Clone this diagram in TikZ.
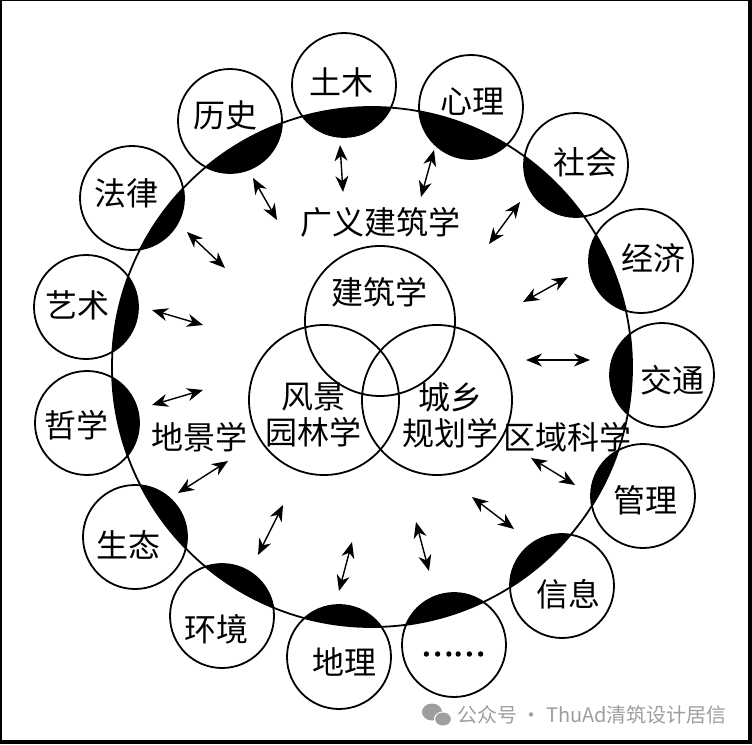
\documentclass[tikz,border=0pt]{standalone}
\usepackage{fontspec}
\newfontfamily\cjk{Noto Sans CJK SC}
\newfontfamily\cjkheavy{Noto Sans CJK SC}[FakeBold=4]
\usetikzlibrary{arrows.meta}
\tikzset{
  disc/.style={circle, draw, line width=1.8pt, minimum size=104pt, inner sep=0pt, outer sep=0pt},
  venn/.style={circle, draw, line width=1.8pt, minimum size=150pt, inner sep=0pt, outer sep=0pt},
  bigring/.style={circle, draw, line width=1.8pt, minimum size=520pt, inner sep=0pt, outer sep=0pt},
  word/.style={font=\cjk\fontsize{32}{36}\selectfont, inner sep=0pt, align=center},
  dotword/.style={font=\cjkheavy\fontsize{30}{34}\selectfont, inner sep=0pt},
  wm/.style={font=\cjk\fontsize{20}{22}\selectfont, inner sep=0pt, text=black!38},
  twoway/.style={{Stealth[length=16pt,width=13pt,inset=5pt]}-{Stealth[length=16pt,width=13pt,inset=5pt]}, line width=1.4pt},
}
\begin{document}
\begin{tikzpicture}[x=1pt,y=-1pt]
\useasboundingbox (0,0) rectangle (752,744);
\fill[white] (0,0) rectangle (752,744);
% frame
\fill[black] (0,0) rectangle (1.6,744);
\fill[black] (0,0) rectangle (752,1.4);
\fill[black] (747.5,0) rectangle (752,744);
\fill[black] (0,740) rectangle (752,744);

\coordinate (O) at (372,367);
% lenses: intersection of each small circle with the big circle
\begin{scope}
  \clip (O) circle (260pt);
  \foreach \px/\py in {344/85, 471/107, 576/165, 641/261, 662/375, 643/496, 562/586,
                       454/645, 339/657, 222/616, 135/537, 87/423, 86/307, 132/198, 230/121}
    \fill[black] (\px,\py) circle (52pt);
\end{scope}

\node[bigring] (big) at (O) {};

% outer discipline circles
\node[disc] (tumu)     at (344,85)  {};
\node[disc] (xinli)    at (471,107) {};
\node[disc] (shehui)   at (576,165) {};
\node[disc] (jingji)   at (641,261) {};
\node[disc] (jiaotong) at (662,375) {};
\node[disc] (guanli)   at (643,496) {};
\node[disc] (xinxi)    at (562,586) {};
\node[disc] (more)     at (454,645) {};
\node[disc] (dili)     at (339,657) {};
\node[disc] (huanjing) at (222,616) {};
\node[disc] (shengtai) at (135,537) {};
\node[disc] (zhexue)   at (87,423)  {};
\node[disc] (yishu)    at (86,307)  {};
\node[disc] (falv)     at (132,198) {};
\node[disc] (lishi)    at (230,121) {};

\node[word] (ttumu)     at (341,82)  {土木};
\node[word] (txinli)    at (472,102) {心理};
\node[word] (tshehui)   at (585,162) {社会};
\node[word] (tjingji)   at (653,258) {经济};
\node[word] (tjiaotong) at (672,380) {交通};
\node[word] (tguanli)   at (645,500) {管理};
\node[word] (txinxi)    at (568,594) {信息};
\node[dotword] (tmore)  at (453,654) {……};
\node[word] (tdili)     at (344,662) {地理};
\node[word] (thuanjing) at (216,629) {环境};
\node[word] (tshengtai) at (128,545) {生态};
\node[word] (tzhexue)   at (76,425)  {哲学};
\node[word] (tyishu)    at (77,305)  {艺术};
\node[word] (tfalv)     at (126,193) {法律};
\node[word] (tlishi)    at (225,115) {历史};

% inner Venn circles
\node[venn] (jzx)  at (380,321) {};
\node[venn] (fjyl) at (324,400) {};
\node[venn] (cxgh) at (437,400) {};

\node[word] (tjzx)  at (379,292) {建筑学};
\node[word] (tfjyl) at (313,415) {风景\\园林学};
\node[word] (tcxgh) at (450,415) {城乡\\规划学};
\node[word] (tgy)   at (380,222) {广义建筑学};
\node[word] (tdjx)  at (199,437) {地景学};
\node[word] (tqy)   at (567,437) {区域科学};

% double-headed arrows
\coordinate (a1s) at (340,145);  \coordinate (a1e) at (343,192);
\coordinate (a2s) at (253,178);  \coordinate (a2e) at (277,220);
\coordinate (a3s) at (187,232);  \coordinate (a3e) at (225,268);
\coordinate (a4s) at (152,310);  \coordinate (a4e) at (203,325);
\coordinate (a5s) at (434,150);  \coordinate (a5e) at (421,197);
\coordinate (a6s) at (520,202);  \coordinate (a6e) at (489,244);
\coordinate (a7s) at (568,277);  \coordinate (a7e) at (523,302);
\coordinate (a8s) at (526,360);  \coordinate (a8e) at (590,360);
\coordinate (a9s) at (152,405);  \coordinate (a9e) at (203,390);
\coordinate (a10s) at (178,493); \coordinate (a10e) at (228,461);
\coordinate (a11s) at (258,555); \coordinate (a11e) at (283,505);
\coordinate (a12s) at (339,591); \coordinate (a12e) at (352,542);
\coordinate (a13s) at (531,458); \coordinate (a13e) at (575,485);
\coordinate (a14s) at (472,497); \coordinate (a14e) at (514,529);
\coordinate (a15s) at (416,522); \coordinate (a15e) at (429,571);
\foreach \k in {1,...,15} \draw[twoway] (a\k s) -- (a\k e);

% watermark
\fill[black!38] (432,712) ellipse (10pt and 8.5pt);
\fill[white] (443,719) ellipse (9pt and 7.5pt);
\fill[black!38] (443,719) ellipse (7.8pt and 6.5pt);
\node[wm, anchor=west] (wmark) at (457,715) {公众号 · ThuAd清筑设计居信};
\end{tikzpicture}
\end{document}
